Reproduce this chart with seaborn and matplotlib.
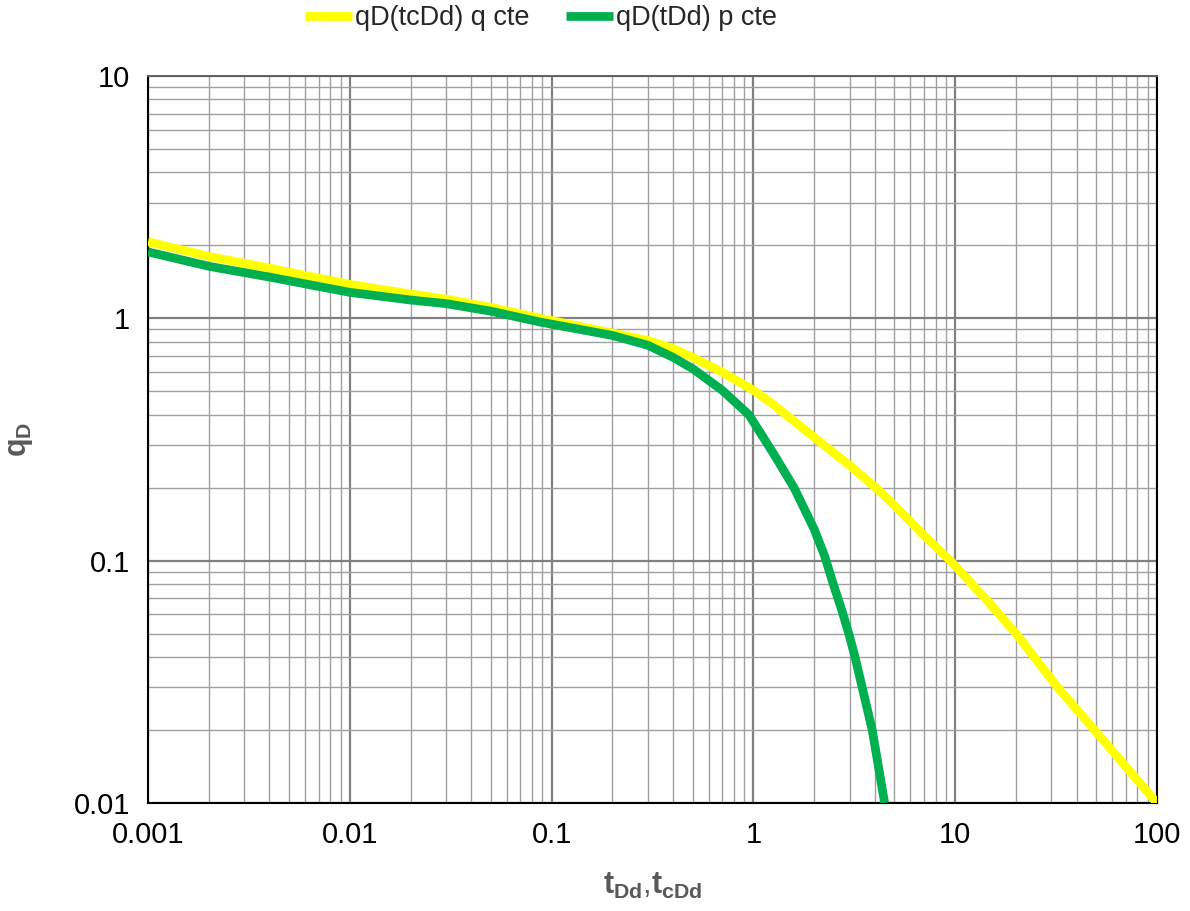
import matplotlib
matplotlib.use("Agg")
import matplotlib.pyplot as plt
import matplotlib.ticker as mticker
import seaborn as sns
import pandas as pd

# data
t_q = [0.001, 0.002, 0.004, 0.01, 0.02, 0.03, 0.05, 0.088, 0.2, 0.3, 0.4, 0.5, 0.7, 1.0,
       1.26, 1.99, 3.02, 4.02, 4.96, 7.0, 9.47, 14.5, 20.0, 32.2, 49.0, 100.0]
qD_q = [2.07, 1.80, 1.61, 1.38, 1.26, 1.20, 1.11, 1.00, 0.87, 0.81, 0.75, 0.69, 0.60, 0.505,
        0.44, 0.324, 0.246, 0.201, 0.170, 0.127, 0.100, 0.068, 0.050, 0.030, 0.020, 0.010]

t_p = [0.001, 0.002, 0.004, 0.01, 0.02, 0.03, 0.05, 0.088, 0.2, 0.3, 0.4, 0.5, 0.7, 0.95,
       1.26, 1.59, 2.0, 2.25, 2.5, 2.75, 2.99, 3.19, 3.46, 3.88, 4.47]
qD_p = [1.88, 1.64, 1.48, 1.28, 1.19, 1.15, 1.07, 0.965, 0.85, 0.774, 0.69, 0.62, 0.505, 0.40,
        0.276, 0.200, 0.135, 0.105, 0.079, 0.062, 0.049, 0.040, 0.030, 0.020, 0.010]

label_q = "qD(tcDd) q cte"
label_p = "qD(tDd) p cte"

sns.set_style("white")
plt.rcParams['font.family'] = ['Liberation Sans', 'DejaVu Sans']
plt.rcParams['mathtext.fontset'] = 'custom'
plt.rcParams['mathtext.rm'] = 'Liberation Sans'
plt.rcParams['mathtext.bf'] = 'Liberation Sans:bold'
plt.rcParams['mathtext.it'] = 'Liberation Sans:italic'

fig = plt.figure(figsize=(11.9, 9.11), dpi=100)
ax = fig.add_axes([148/1190, 1 - 803/911, (1157-148)/1190, (803-76)/911])

df_q = pd.DataFrame({"t": t_q, "q": qD_q})
df_p = pd.DataFrame({"t": t_p, "q": qD_p})
sns.lineplot(data=df_q, x="t", y="q", ax=ax, color="#FFFF00", linewidth=6.3, label=label_q,
             zorder=3, solid_joinstyle="round", solid_capstyle="butt")
sns.lineplot(data=df_p, x="t", y="q", ax=ax, color="#00B050", linewidth=6.3, label=label_p,
             zorder=4, solid_joinstyle="round", solid_capstyle="butt")

ax.set_xscale("log")
ax.set_yscale("log")
ax.set_xlim(0.001, 100)
ax.set_ylim(0.01, 10)

ax.xaxis.set_major_locator(mticker.FixedLocator([0.001, 0.01, 0.1, 1, 10, 100]))
ax.yaxis.set_major_locator(mticker.FixedLocator([0.01, 0.1, 1, 10]))
ax.xaxis.set_major_formatter(mticker.FixedFormatter(["0.001", "0.01", "0.1", "1", "10", "100"]))
ax.yaxis.set_major_formatter(mticker.FixedFormatter(["0.01", "0.1", "1", "10"]))
ax.xaxis.set_minor_locator(mticker.LogLocator(base=10, subs=range(2, 10), numticks=20))
ax.yaxis.set_minor_locator(mticker.LogLocator(base=10, subs=range(2, 10), numticks=20))
ax.xaxis.set_minor_formatter(mticker.NullFormatter())
ax.yaxis.set_minor_formatter(mticker.NullFormatter())

ax.grid(which="major", color="#808080", linewidth=1.6, zorder=0)
ax.grid(which="minor", color="#a0a0a0", linewidth=1.0, zorder=0)
ax.set_axisbelow(True)

ax.tick_params(axis="both", which="major", labelsize=21, length=7, width=1.2,
               direction="out", color="black", labelcolor="black")
ax.tick_params(axis="y", which="major", pad=6)
ax.tick_params(axis="x", which="major", pad=6)
ax.tick_params(axis="both", which="minor", length=0)

for s in ["left", "bottom", "right"]:
    ax.spines[s].set_color("black")
    ax.spines[s].set_linewidth(1.5)
ax.spines["top"].set_color("#606060")
ax.spines["top"].set_linewidth(1.4)

ax.set_xlabel(r"$\mathbf{t_{Dd}}$,$\mathbf{t_{cDd}}$", fontsize=22, color="#595959", labelpad=16)
ax.set_ylabel(r"$\mathbf{q_{D}}$", fontsize=22, color="#595959")
ax.yaxis.set_label_coords((35 - 148) / 1009, 0.5)

ax.legend(loc="center", bbox_to_anchor=(541/1190, 1 - 18/911), bbox_transform=fig.transFigure,
          ncol=2, frameon=False, fontsize=19.5, handlelength=1.74, handletextpad=0.1,
          columnspacing=1.37, borderaxespad=0.0)

fig.savefig("out.png", dpi=100)
